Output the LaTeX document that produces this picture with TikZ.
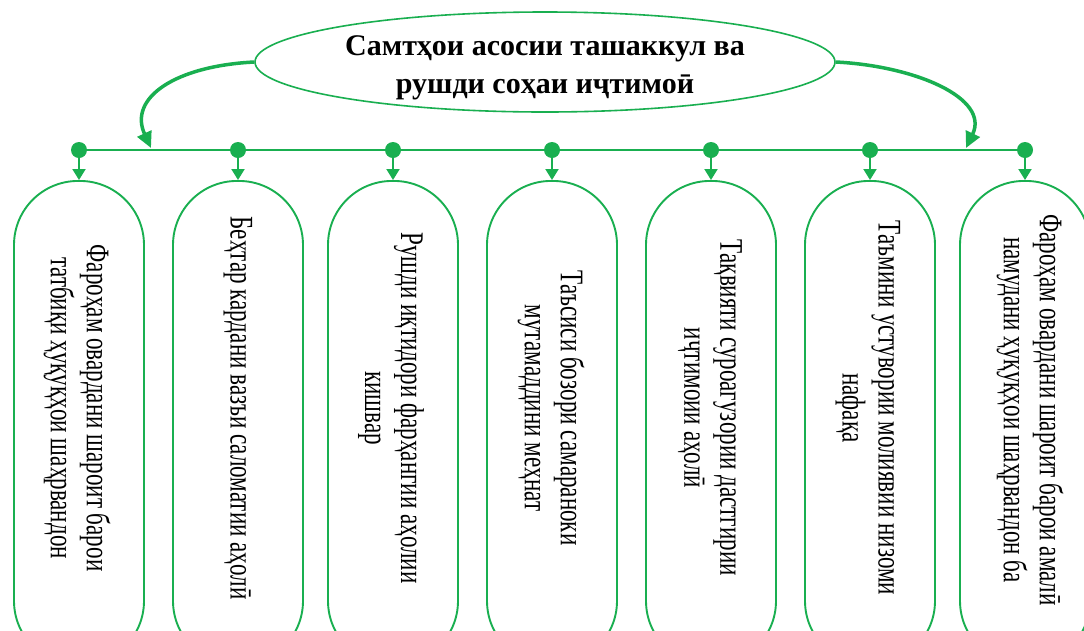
\documentclass[tikz,border=0pt]{standalone}
\usepackage{fontspec}
\setmainfont{Liberation Serif}
\newfontfamily\boxfont[FakeStretch=0.70]{Liberation Serif}
\usetikzlibrary{arrows.meta,shapes.geometric}
\definecolor{grn}{RGB}{25,175,80}
\begin{document}
\begin{tikzpicture}[x=1pt,y=-1pt,
  pill/.style={draw=grn,line width=1.9pt,rounded corners=64pt,minimum width=130pt,minimum height=484pt,anchor=north,inner sep=0pt},
  lbl/.style={rotate=-90,align=center,inner sep=0pt,font=\boxfont\fontsize{33}{36}\selectfont},
  dot/.style={circle,fill=grn,minimum size=16pt,inner sep=0pt},
  bus/.style={draw=grn,line width=2.4pt},
  drop/.style={draw=grn,line width=2pt,-{Triangle[width=13pt,length=11pt]}},
  big/.style={draw=grn,line width=3.5pt,-{Triangle[width=15pt,length=16pt]}},
  oval/.style={ellipse,draw=grn,line width=1.6pt,minimum width=580pt,minimum height=100pt,inner sep=0pt},
  ttl/.style={align=center,inner sep=0pt,font=\bfseries\fontsize{30}{38}\selectfont}
]
\useasboundingbox (0,0) rectangle (1084,630);
\clip (0,0) rectangle (1084,630);
\fill[white] (0,0) rectangle (1084,630);

% title
\node[oval] (t) at (545,62) {};
\node[ttl] (tt) at (545,68) {Самтҳои асосии ташаккул ва\\рушди соҳаи иҷтимоӣ};

% bus
\coordinate (bl) at (79,150);
\coordinate (br) at (1024,150);
\draw[bus] (bl) -- (br);
\coordinate (al) at (151,148);
\coordinate (ar) at (966,148);
\draw[big] (t.west) .. controls (175,66) and (128,98) .. (al);
\draw[big] (t.east) .. controls (915,66) and (990,98) .. (ar);

% boxes
\foreach \i/\x in {1/79,2/238,3/393,4/552,5/711,6/870,7/1025}{
  \node[pill] (p\i) at (\x,180) {};
  \node[dot] (d\i) at (\x,150) {};
  \draw[drop] (d\i.center) -- (p\i.north);
}

\node[lbl] (l1) at (77,408) {Фароҳам овардани шароит барои\\татбиқи ҳуқуқҳои шаҳрвандон};
\node[lbl] (l2) at (238,408) {Беҳтар кардани вазъи саломатии аҳолӣ};
\node[lbl] (l3) at (391,408) {Рушди иқтидори фарҳангии аҳолии\\кишвар};
\node[lbl] (l4) at (551,408) {Таъсиси бозори самараноки\\мутамаддини меҳнат};
\node[lbl] (l5) at (710,408) {Тақвияти суроагузории дастгирии\\иҷтимоии аҳолӣ};
\node[lbl] (l6) at (868,408) {Таъмини устувории молиявии низоми\\нафақа};
\node[lbl] (l7) at (1030,410) {Фароҳам овардани шароит барои амалӣ\\намудани ҳуқуқҳои шаҳрвандон ба};
\end{tikzpicture}
\end{document}
